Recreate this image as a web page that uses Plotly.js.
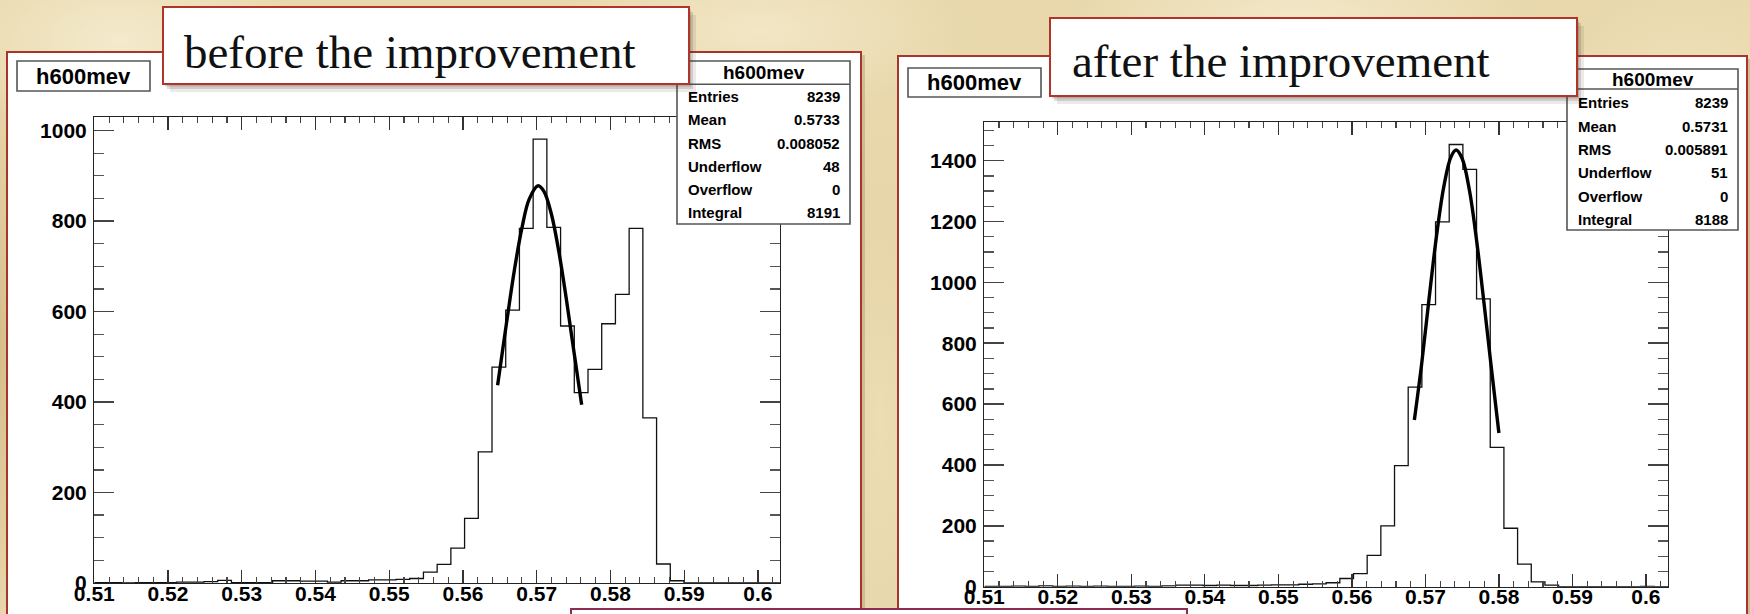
<!DOCTYPE html>
<html>
<head>
<meta charset="utf-8">
<script src="https://cdn.plot.ly/plotly-3.0.1.min.js"></script>
<style>
  html, body { margin: 0; padding: 0; width: 1750px; height: 614px; overflow: hidden; }
  body {
    background-color: #e8d8ac;
    background-image:
      radial-gradient(ellipse 260px 140px at 120px 40px, rgba(246,238,210,0.85), rgba(246,238,210,0) 70%),
      radial-gradient(ellipse 300px 120px at 760px 30px, rgba(244,234,204,0.8), rgba(244,234,204,0) 70%),
      radial-gradient(ellipse 340px 130px at 1300px 25px, rgba(245,236,208,0.8), rgba(245,236,208,0) 70%),
      radial-gradient(ellipse 200px 160px at 1690px 90px, rgba(240,228,192,0.7), rgba(240,228,192,0) 70%),
      radial-gradient(ellipse 60px 300px at 880px 420px, rgba(236,222,182,0.9), rgba(236,222,182,0) 70%),
      radial-gradient(ellipse 40px 400px at 0px 350px, rgba(205,178,125,0.7), rgba(205,178,125,0) 70%),
      radial-gradient(ellipse 500px 300px at 875px 300px, rgba(226,208,160,0.5), rgba(226,208,160,0) 70%);
  }
  #chart { width: 1750px; height: 614px; }
</style>
</head>
<body>
<div id="chart"></div>
<script>
// Histogram binning of the reconstructed mass (GeV): 50 bins starting at 0.51
const binLow = 0.51;
const binWidth = 0.00186;

// Bin contents, before the improvement
const countsBefore = [
  1, 1, 0, 1, 1, 1, 2, 2, 3, 6,
  1, 1, 1, 5, 5, 4, 4, 2, 5, 5,
  7, 7, 8, 10, 24, 41, 77, 143, 290, 477,
  603, 784, 981, 786, 568, 421, 472, 573, 638, 784,
  365, 42, 5, 0, 0, 0, 0, 0, 0, 0
];

// Bin contents, after the improvement
const countsAfter = [
  1, 1, 2, 1, 3, 1, 2, 1, 2, 1,
  1, 2, 1, 3, 5, 5, 4, 5, 4, 4,
  5, 6, 6, 8, 9, 13, 27, 43, 103, 200,
  398, 656, 927, 1199, 1453, 1371, 946, 458, 192, 74,
  16, 5, 0, 0, 0, 0, 0, 0, 1, 0
];

// Gaussian fit curves as drawn over the peak
const fitBeforeX = [0.5647, 0.5660, 0.5670, 0.5680, 0.5690, 0.5702, 0.5710, 0.5720, 0.5730, 0.5740, 0.5750, 0.5761];
const fitBeforeY = [437, 585, 694, 785, 849, 878, 865, 815, 733, 630, 517, 394];
const fitAfterX = [0.5685, 0.5695, 0.5705, 0.5715, 0.5725, 0.5735, 0.5742, 0.5750, 0.5760, 0.5770, 0.5780, 0.5790, 0.5800];
const fitAfterY = [548, 734, 947, 1150, 1314, 1414, 1435, 1407, 1301, 1131, 926, 713, 505];

// Statistics boxes
const histName = 'h600mev';
const statLabels = ['Entries', 'Mean', 'RMS', 'Underflow', 'Overflow', 'Integral'];
const statBefore = ['8239', '0.5733', '0.008052', '48', '0', '8191'];
const statAfter = ['8239', '0.5731', '0.005891', '51', '0', '8188'];

// Panel captions
const captions = ['before the improvement', 'after the improvement'];

// ---------------------------------------------------------------------------
const W = 1750, H = 614;
const fx = v => v / W;          // pixel x -> paper x
const fy = v => 1 - v / H;      // pixel y -> paper y

function stepTrace(counts, xa, ya) {
  const xs = [], ys = [];
  for (let i = 0; i <= counts.length; i++) {
    xs.push(binLow + i * binWidth);
    ys.push(i < counts.length ? counts[i] : counts[counts.length - 1]);
  }
  return {
    x: xs, y: ys, xaxis: xa, yaxis: ya, type: 'scatter', mode: 'lines',
    line: { shape: 'hv', color: '#111', width: 1.3 }, hoverinfo: 'skip', showlegend: false
  };
}

function fitTrace(xs, ys, xa, ya) {
  return {
    x: xs, y: ys, xaxis: xa, yaxis: ya, type: 'scatter', mode: 'lines',
    line: { shape: 'spline', smoothing: 1, color: '#000', width: 3.4 }, hoverinfo: 'skip', showlegend: false
  };
}

const traces = [
  stepTrace(countsBefore, 'x', 'y'),
  fitTrace(fitBeforeX, fitBeforeY, 'x', 'y'),
  stepTrace(countsAfter, 'x2', 'y2'),
  fitTrace(fitAfterX, fitAfterY, 'x2', 'y2')
];

const tickFont = { family: 'Liberation Sans, Arial, sans-serif', size: 21, color: '#000', weight: 'bold' };
const xMax = binLow + 50 * binWidth;

function xAxis(domain, anchor) {
  return {
    domain: domain, anchor: anchor, range: [binLow, xMax],
    tickmode: 'linear', tick0: 0.51, dtick: 0.01, tickformat: '.2~f',
    ticks: 'inside', ticklen: 13, tickwidth: 1.3, tickcolor: '#333',
    minor: { tickmode: 'linear', tick0: 0.51, dtick: 0.002, ticks: 'inside', ticklen: 6, tickwidth: 1.1, tickcolor: '#444' },
    showline: true, linecolor: '#222', linewidth: 1.3, mirror: 'allticks',
    showgrid: false, zeroline: false, tickfont: tickFont, ticklabelstandoff: -9, fixedrange: true
  };
}
function yAxis(domain, anchor, top) {
  return {
    domain: domain, anchor: anchor, range: [0, top],
    tickmode: 'linear', tick0: 0, dtick: 200,
    ticks: 'inside', ticklen: 20, tickwidth: 1.5, tickcolor: '#444',
    minor: { tickmode: 'linear', tick0: 0, dtick: 50, ticks: 'inside', ticklen: 10, tickwidth: 1.3, tickcolor: '#555' },
    showline: true, linecolor: '#222', linewidth: 1.3, mirror: 'allticks',
    showgrid: false, zeroline: false, tickfont: tickFont, ticklabelstandoff: 2, fixedrange: true
  };
}

// Pixel geometry of the two panels
const panels = [
  { frame: [7, 52, 861, 660], plot: [94.3, 117, 780, 583], nameBox: [17, 61, 150, 91],
    statBox: [677, 61, 850, 224], statHead: 84.3, rowY: 96.7, rowStep: 23.2,
    title: [163, 7, 689, 84], titleX: 182, titleY: 52, stats: statBefore, yTop: 1030 },
  { frame: [898, 56, 1747, 660], plot: [984.3, 122.3, 1668, 586.7], nameBox: [908, 68, 1041, 97],
    statBox: [1567, 69, 1738, 230], statHead: 89, rowY: 103, rowStep: 23.3,
    title: [1050, 18, 1577, 96], titleX: 1070, titleY: 61, stats: statAfter, yTop: 1526 }
];

const shapes = [];
const annotations = [];
function rect(b, fill, line, lw, layer, dx, dy) {
  dx = dx || 0; dy = dy || 0;
  shapes.push({
    type: 'rect', xref: 'paper', yref: 'paper', layer: layer,
    x0: fx(b[0] + dx), x1: fx(b[2] + dx), y0: fy(b[3] + dy), y1: fy(b[1] + dy),
    fillcolor: fill, line: { color: line, width: lw }
  });
}

panels.forEach((p, k) => {
  // outer frame with a soft shadow
  rect(p.frame, 'rgba(90,60,30,0.18)', 'rgba(0,0,0,0)', 0, 'below', 4, 3);
  rect(p.frame, '#ffffff', '#a8352c', 2, 'below');
});
panels.forEach((p, k) => {
  // histogram name box
  rect(p.nameBox, '#ffffff', '#555', 1.6, 'above');
  annotations.push({
    xref: 'paper', yref: 'paper', x: fx((p.nameBox[0] + p.nameBox[2]) / 2), y: fy((p.nameBox[1] + p.nameBox[3]) / 2),
    xanchor: 'center', yanchor: 'middle', showarrow: false, text: histName,
    font: { family: 'Liberation Sans, Arial, sans-serif', size: 22, color: '#000', weight: 'bold' }
  });
  // statistics box
  rect(p.statBox, '#ffffff', '#555', 1.6, 'above');
  shapes.push({ type: 'line', xref: 'paper', yref: 'paper', layer: 'above',
    x0: fx(p.statBox[0]), x1: fx(p.statBox[2]), y0: fy(p.statHead), y1: fy(p.statHead),
    line: { color: '#555', width: 1.4 } });
  annotations.push({
    xref: 'paper', yref: 'paper', x: fx((p.statBox[0] + p.statBox[2]) / 2), y: fy((p.statBox[1] + p.statHead) / 2),
    xanchor: 'center', yanchor: 'middle', showarrow: false, text: histName,
    font: { family: 'Liberation Sans, Arial, sans-serif', size: 19, color: '#000', weight: 'bold' }
  });
  statLabels.forEach((lab, i) => {
    const yy = fy(p.rowY + i * p.rowStep);
    annotations.push({ xref: 'paper', yref: 'paper', x: fx(p.statBox[0] + 8.5), y: yy, xanchor: 'left', yanchor: 'middle',
      showarrow: false, text: lab, font: { family: 'Liberation Sans, Arial, sans-serif', size: 15, color: '#000', weight: 'bold' } });
    annotations.push({ xref: 'paper', yref: 'paper', x: fx(p.statBox[2] - 8.5), y: yy, xanchor: 'right', yanchor: 'middle',
      showarrow: false, text: p.stats[i], font: { family: 'Liberation Sans, Arial, sans-serif', size: 15, color: '#000', weight: 'bold' } });
  });
  // caption box with drop shadow
  rect(p.title, 'rgba(60,50,40,0.10)', 'rgba(0,0,0,0)', 0, 'above', 7, 8);
  rect(p.title, 'rgba(60,50,40,0.16)', 'rgba(0,0,0,0)', 0, 'above', 4, 5);
  rect(p.title, 'rgba(60,50,40,0.20)', 'rgba(0,0,0,0)', 0, 'above', 2, 2.5);
  rect(p.title, '#ffffff', '#b1342b', 2, 'above');
  annotations.push({
    xref: 'paper', yref: 'paper', x: fx(p.titleX), y: fy(p.titleY), xanchor: 'left', yanchor: 'middle',
    showarrow: false, text: captions[k],
    font: { family: 'Liberation Serif, Times New Roman, serif', size: 47, color: '#111' }
  });
});

// partially visible box along the lower edge
rect([571, 609, 1187, 660], '#ffffff', '#8d2d4f', 2, 'above');

const p0 = panels[0], p1 = panels[1];
const layout = {
  width: W, height: H,
  margin: { l: 0, r: 0, t: 0, b: 0, pad: 0 },
  paper_bgcolor: 'rgba(0,0,0,0)', plot_bgcolor: '#ffffff',
  showlegend: false,
  xaxis: xAxis([fx(p0.plot[0]), fx(p0.plot[2])], 'y'),
  yaxis: yAxis([fy(p0.plot[3]), fy(p0.plot[1])], 'x', p0.yTop),
  xaxis2: xAxis([fx(p1.plot[0]), fx(p1.plot[2])], 'y2'),
  yaxis2: yAxis([fy(p1.plot[3]), fy(p1.plot[1])], 'x2', p1.yTop),
  shapes: shapes,
  annotations: annotations
};

Plotly.newPlot('chart', traces, layout, { displayModeBar: false, staticPlot: true });
</script>
</body>
</html>
